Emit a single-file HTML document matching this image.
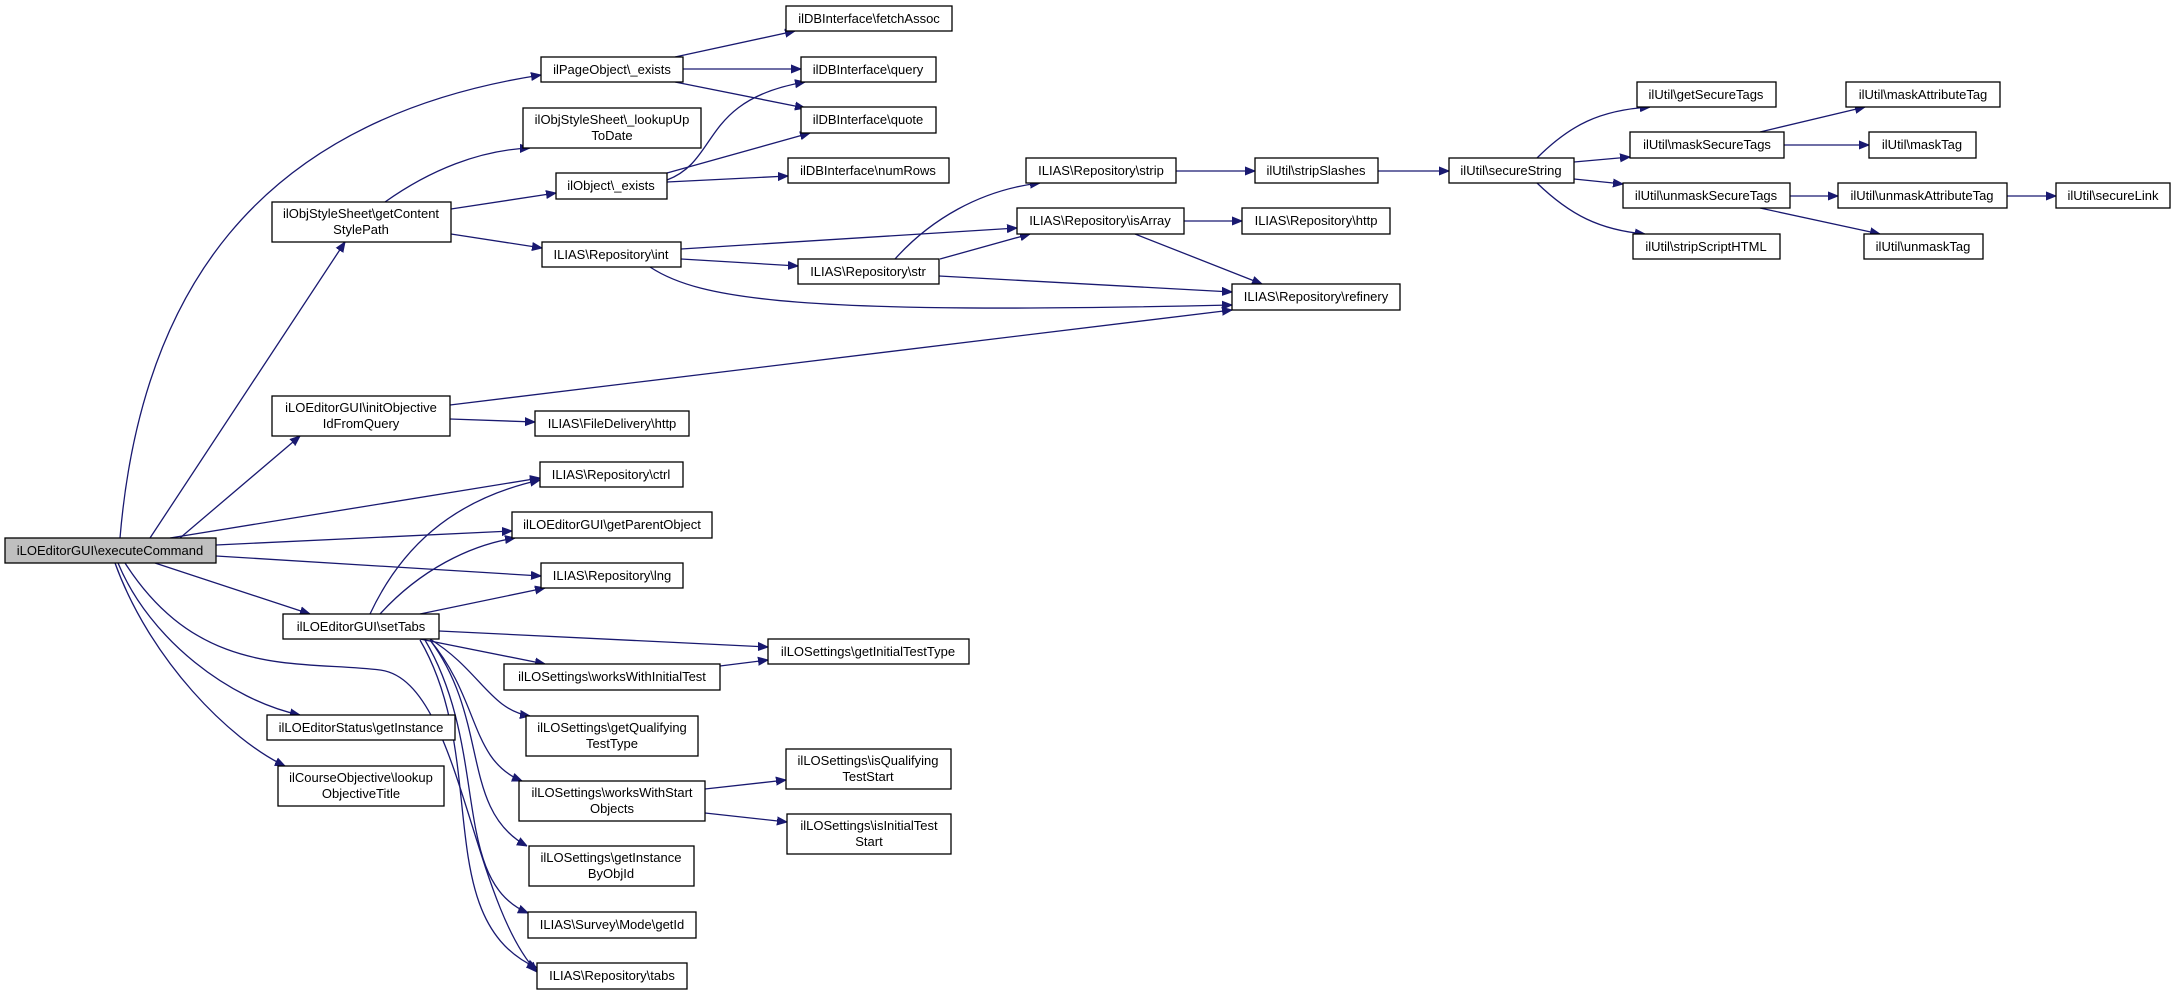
<!DOCTYPE html>
<html><head><meta charset="utf-8"><style>
html,body{margin:0;padding:0;background:#fff;}
svg{display:block;}
text{font-family:"Liberation Sans",sans-serif;font-size:13px;fill:#000;}
.b{fill:#fff;stroke:#000;stroke-width:1.3;}
.g{fill:#bfbfbf;stroke:#000;stroke-width:1.3;}
path.e{fill:none;stroke:#191970;stroke-width:1.3;}
</style></head><body>
<svg width="2176" height="995" viewBox="0 0 2176 995" xmlns="http://www.w3.org/2000/svg">
<defs><marker id="a" viewBox="0 0 10 10" refX="10" refY="5" markerWidth="10" markerHeight="10" markerUnits="userSpaceOnUse" orient="auto"><path d="M0,1 L10,5 L0,9 z" fill="#191970" stroke="#191970"/></marker></defs>
<g marker-end="url(#a)">
<path class="e" d="M120,538 C140,300 250,120 541,75"/>
<path class="e" d="M150,538 L345,242"/>
<path class="e" d="M180,538 L300,436"/>
<path class="e" d="M170,538 L540,478"/>
<path class="e" d="M216,545 L512,531"/>
<path class="e" d="M216,556 L541,576"/>
<path class="e" d="M155,563 L310,614"/>
<path class="e" d="M125,563 C200,680 300,660 380,670 C460,680 470,900 537,972"/>
<path class="e" d="M118,563 C150,640 230,700 300,715"/>
<path class="e" d="M115,563 C150,660 230,740 285,766"/>
<path class="e" d="M385,202 C430,170 480,150 530,148"/>
<path class="e" d="M451,209 L556,193"/>
<path class="e" d="M451,234 L542,248"/>
<path class="e" d="M667,180 C720,160 700,100 805,82"/>
<path class="e" d="M667,173 L810,133"/>
<path class="e" d="M667,182 L788,176"/>
<path class="e" d="M675,57 L795,31"/>
<path class="e" d="M683,69 L801,69"/>
<path class="e" d="M675,82 L805,108"/>
<path class="e" d="M681,249 L1017,228"/>
<path class="e" d="M681,259 L798,266"/>
<path class="e" d="M650,267 C700,300 800,315 1232,305"/>
<path class="e" d="M895,259 C930,220 980,190 1040,183"/>
<path class="e" d="M940,259 L1030,234"/>
<path class="e" d="M939,276 L1232,292"/>
<path class="e" d="M1184,221 L1242,221"/>
<path class="e" d="M1135,234 L1262,284"/>
<path class="e" d="M1176,171 L1255,171"/>
<path class="e" d="M1378,171 L1449,171"/>
<path class="e" d="M1537,158 C1570,125 1600,110 1650,107"/>
<path class="e" d="M1574,162 L1630,157"/>
<path class="e" d="M1574,179 L1623,184"/>
<path class="e" d="M1537,183 C1570,215 1600,230 1645,234"/>
<path class="e" d="M1760,132 L1865,107"/>
<path class="e" d="M1784,145 L1869,145"/>
<path class="e" d="M1790,196 L1838,196"/>
<path class="e" d="M1760,208 L1880,234"/>
<path class="e" d="M2007,196 L2056,196"/>
<path class="e" d="M450,405 L1232,310"/>
<path class="e" d="M450,419 L535,422"/>
<path class="e" d="M370,614 C400,550 450,500 540,480"/>
<path class="e" d="M380,614 C420,570 470,545 515,538"/>
<path class="e" d="M420,614 L545,588"/>
<path class="e" d="M439,631 L768,647"/>
<path class="e" d="M420,639 L545,664"/>
<path class="e" d="M430,639 C480,670 490,710 530,716"/>
<path class="e" d="M430,640 C480,700 470,760 522,781"/>
<path class="e" d="M430,640 C490,720 460,810 527,846"/>
<path class="e" d="M425,640 C490,750 450,880 528,913"/>
<path class="e" d="M420,640 C490,760 430,920 537,968"/>
<path class="e" d="M720,666 L768,660"/>
<path class="e" d="M705,789 L786,780"/>
<path class="e" d="M705,813 L787,822"/>
</g>
<g text-anchor="middle">
<rect class="g" x="5" y="538" width="211" height="25"/><text x="110" y="555">iLOEditorGUI\executeCommand</text>
<rect class="b" x="786" y="6" width="166" height="25"/><text x="869" y="23">ilDBInterface\fetchAssoc</text>
<rect class="b" x="541" y="57" width="142" height="25"/><text x="612" y="74">ilPageObject\_exists</text>
<rect class="b" x="801" y="57" width="135" height="25"/><text x="868" y="74">ilDBInterface\query</text>
<rect class="b" x="523" y="108" width="178" height="40"/><text x="612" y="124">ilObjStyleSheet\_lookupUp</text><text x="612" y="140">ToDate</text>
<rect class="b" x="801" y="107" width="135" height="26"/><text x="868" y="124">ilDBInterface\quote</text>
<rect class="b" x="788" y="158" width="161" height="25"/><text x="868" y="175">ilDBInterface\numRows</text>
<rect class="b" x="556" y="173" width="111" height="26"/><text x="611" y="190">ilObject\_exists</text>
<rect class="b" x="272" y="202" width="179" height="40"/><text x="361" y="218">ilObjStyleSheet\getContent</text><text x="361" y="234">StylePath</text>
<rect class="b" x="542" y="242" width="139" height="25"/><text x="611" y="259">ILIAS\Repository\int</text>
<rect class="b" x="798" y="259" width="141" height="25"/><text x="868" y="276">ILIAS\Repository\str</text>
<rect class="b" x="1026" y="158" width="150" height="25"/><text x="1101" y="175">ILIAS\Repository\strip</text>
<rect class="b" x="1017" y="208" width="167" height="26"/><text x="1100" y="225">ILIAS\Repository\isArray</text>
<rect class="b" x="1242" y="208" width="148" height="26"/><text x="1316" y="225">ILIAS\Repository\http</text>
<rect class="b" x="1232" y="284" width="168" height="26"/><text x="1316" y="301">ILIAS\Repository\refinery</text>
<rect class="b" x="1255" y="158" width="123" height="25"/><text x="1316" y="175">ilUtil\stripSlashes</text>
<rect class="b" x="1449" y="158" width="125" height="25"/><text x="1511" y="175">ilUtil\secureString</text>
<rect class="b" x="1637" y="82" width="139" height="25"/><text x="1706" y="99">ilUtil\getSecureTags</text>
<rect class="b" x="1846" y="82" width="154" height="25"/><text x="1923" y="99">ilUtil\maskAttributeTag</text>
<rect class="b" x="1630" y="132" width="154" height="26"/><text x="1707" y="149">ilUtil\maskSecureTags</text>
<rect class="b" x="1869" y="132" width="107" height="26"/><text x="1922" y="149">ilUtil\maskTag</text>
<rect class="b" x="1623" y="183" width="167" height="25"/><text x="1706" y="200">ilUtil\unmaskSecureTags</text>
<rect class="b" x="1838" y="183" width="169" height="25"/><text x="1922" y="200">ilUtil\unmaskAttributeTag</text>
<rect class="b" x="2056" y="183" width="114" height="25"/><text x="2113" y="200">ilUtil\secureLink</text>
<rect class="b" x="1633" y="234" width="147" height="25"/><text x="1706" y="251">ilUtil\stripScriptHTML</text>
<rect class="b" x="1864" y="234" width="119" height="25"/><text x="1923" y="251">ilUtil\unmaskTag</text>
<rect class="b" x="272" y="396" width="178" height="40"/><text x="361" y="412">iLOEditorGUI\initObjective</text><text x="361" y="428">IdFromQuery</text>
<rect class="b" x="535" y="411" width="154" height="25"/><text x="612" y="428">ILIAS\FileDelivery\http</text>
<rect class="b" x="540" y="462" width="143" height="25"/><text x="611" y="479">ILIAS\Repository\ctrl</text>
<rect class="b" x="512" y="512" width="200" height="26"/><text x="612" y="529">ilLOEditorGUI\getParentObject</text>
<rect class="b" x="541" y="563" width="142" height="25"/><text x="612" y="580">ILIAS\Repository\lng</text>
<rect class="b" x="283" y="614" width="156" height="25"/><text x="361" y="631">ilLOEditorGUI\setTabs</text>
<rect class="b" x="768" y="639" width="201" height="25"/><text x="868" y="656">ilLOSettings\getInitialTestType</text>
<rect class="b" x="504" y="664" width="216" height="26"/><text x="612" y="681">ilLOSettings\worksWithInitialTest</text>
<rect class="b" x="267" y="715" width="188" height="25"/><text x="361" y="732">ilLOEditorStatus\getInstance</text>
<rect class="b" x="526" y="716" width="172" height="40"/><text x="612" y="732">ilLOSettings\getQualifying</text><text x="612" y="748">TestType</text>
<rect class="b" x="786" y="749" width="165" height="40"/><text x="868" y="765">ilLOSettings\isQualifying</text><text x="868" y="781">TestStart</text>
<rect class="b" x="278" y="766" width="166" height="40"/><text x="361" y="782">ilCourseObjective\lookup</text><text x="361" y="798">ObjectiveTitle</text>
<rect class="b" x="519" y="781" width="186" height="40"/><text x="612" y="797">ilLOSettings\worksWithStart</text><text x="612" y="813">Objects</text>
<rect class="b" x="787" y="814" width="164" height="40"/><text x="869" y="830">ilLOSettings\isInitialTest</text><text x="869" y="846">Start</text>
<rect class="b" x="529" y="846" width="165" height="40"/><text x="611" y="862">ilLOSettings\getInstance</text><text x="611" y="878">ByObjId</text>
<rect class="b" x="528" y="912" width="168" height="26"/><text x="612" y="929">ILIAS\Survey\Mode\getId</text>
<rect class="b" x="537" y="963" width="150" height="26"/><text x="612" y="980">ILIAS\Repository\tabs</text>
</g>
</svg>
</body></html>
